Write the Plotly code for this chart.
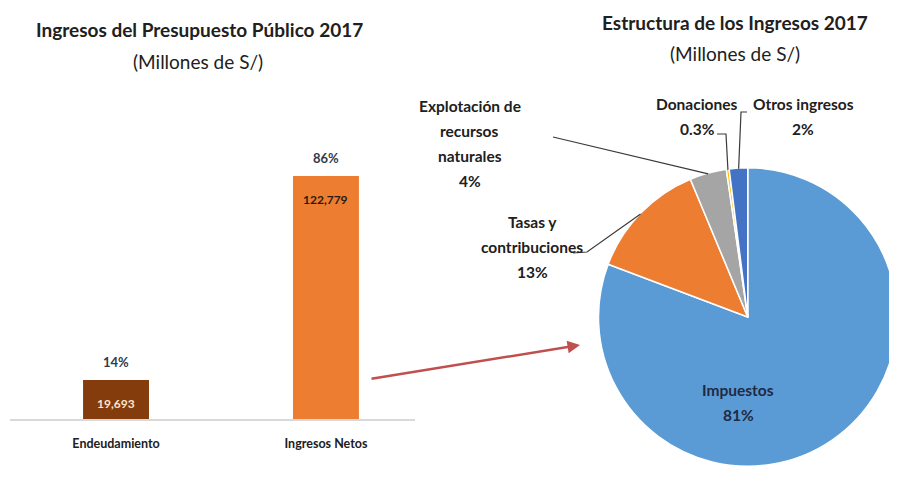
import math

import plotly.graph_objects as go

W, H = 897, 493
OFF = 8  # default body margin of the html page
FW, FH = W - OFF, H - OFF

# --- data -----------------------------------------------------------------
bar_categories = ["Endeudamiento", "Ingresos Netos"]
bar_values = [19693, 122779]
bar_colors = ["#843C0C", "#ED7D31"]
bar_value_colors = ["#FBE5D0", "#2B1A10"]

pie_names = ["Impuestos", "Tasas y contribuciones", "Explotación de recursos naturales",
             "Donaciones", "Otros ingresos"]
pie_pct = [81, 13, 4, 0.3, 2]
pie_lines = [["Impuestos"], ["Tasas y", "contribuciones"],
             ["Explotación de", "recursos", "naturales"], ["Donaciones"], ["Otros ingresos"]]
pie_colors = ["#5B9BD5", "#ED7D31", "#A5A5A5", "#FFC000", "#4472C4"]

FONT = "Lato"
DARK = "#202020"


def px_x(x):
    return (x - OFF) / FW


def px_y(y):
    return 1 - (y - OFF) / FH


fig = go.Figure()

# --- bar chart (left) -------------------------------------------------------
fig.add_trace(go.Bar(
    x=bar_categories, y=bar_values,
    marker=dict(color=bar_colors, line=dict(width=0)),
    width=0.314, hoverinfo="x+y", showlegend=False,
))

total = sum(bar_values)
annotations = []
for cat, val, col in zip(bar_categories, bar_values, bar_value_colors):
    annotations.append(dict(
        x=cat, y=val, xref="x", yref="y", text=f"{val:,}", showarrow=False,
        yanchor="top", yshift=-14, font=dict(family=FONT, size=12, color=col, weight="bold"),
    ))
    annotations.append(dict(
        x=cat, y=val, xref="x", yref="y", text=f"{val / total * 100:.0f}%", showarrow=False,
        yanchor="bottom", yshift=8, font=dict(family=FONT, size=13, color="#333a48", weight="bold"),
    ))

# --- pie chart (right) ------------------------------------------------------
PIE_CX, PIE_CY, PIE_R = 748, 317, 149.5
fig.add_trace(go.Pie(
    labels=pie_names, values=pie_pct,
    marker=dict(colors=pie_colors, line=dict(color="white", width=1.5)),
    sort=False, direction="clockwise", rotation=0,
    textinfo="none", hoverinfo="label+percent", showlegend=False,
    domain=dict(x=[px_x(PIE_CX - PIE_R), 1],
                y=[px_y(PIE_CY + PIE_R), px_y(PIE_CY - PIE_R)]),
))


def edge_point(i):
    """Point on the pie edge at the middle of slice i."""
    tot = sum(pie_pct)
    frac = (sum(pie_pct[:i]) + pie_pct[i] / 2) / tot
    a = frac * 2 * math.pi
    return PIE_CX + PIE_R * math.sin(a), PIE_CY - PIE_R * math.cos(a)


label_pos = [(738, 390), (532, 222), (470, 106), (697, 104), (803, 104)]
label_cols = ["#1F2A44", DARK, DARK, DARK, DARK]
for lines, pct, (lx, ly), col in zip(pie_lines, pie_pct, label_pos, label_cols):
    for k, t in enumerate(lines + [f"{pct:g}%"]):
        annotations.append(dict(
            x=px_x(lx), y=px_y(ly + k * 25), xref="paper", yref="paper", text=t,
            showarrow=False, xanchor="center", yanchor="middle",
            font=dict(family=FONT, size=15.5, color=col, weight="bold"),
        ))

# leader lines
leaders = {
    1: [(573, 253), (587, 252)],
    2: [(553, 137)],
    3: [(717, 134), (726, 134)],
    4: [(747, 112), (741, 112)],
}
shapes = []
for i, pts in leaders.items():
    ex, ey = edge_point(i)
    path = "M " + " L ".join(f"{px_x(x)},{px_y(y)}" for x, y in pts + [(ex, ey + 1)])
    shapes.append(dict(type="path", xref="paper", yref="paper", path=path,
                       line=dict(color="#3a3a3a", width=1.2)))

# titles
titles = [
    ("Ingresos del Presupuesto Público 2017", 199, 30, "bold"),
    ("(Millones de S/)", 198, 61, "normal"),
    ("Estructura de los Ingresos 2017", 735, 22, "bold"),
    ("(Millones de S/)", 735, 53, "normal"),
]
for t, x, y, w in titles:
    annotations.append(dict(
        x=px_x(x), y=px_y(y), xref="paper", yref="paper", text=t, showarrow=False,
        xanchor="center", yanchor="middle",
        font=dict(family=FONT, size=19, color=DARK, weight=w),
    ))

# red arrow from the net income bar to the pie
annotations.append(dict(
    x=px_x(580), y=px_y(345), xref="paper", yref="paper", text="",
    showarrow=True, ax=370 - 580, ay=379 - 345, axref="pixel", ayref="pixel",
    arrowhead=2, arrowsize=1, arrowwidth=2.5, arrowcolor="#C0504D",
))

fig.update_layout(
    width=FW, height=FH,
    margin=dict(l=0, r=0, t=0, b=0),
    paper_bgcolor="white", plot_bgcolor="white",
    font=dict(family=FONT, color=DARK),
    xaxis=dict(domain=[px_x(10), px_x(415)], range=[-0.505, 1.424],
               showline=True, linecolor="#D9D9D9", linewidth=1.5, showgrid=False,
               ticks="", ticklabelstandoff=12,
               tickfont=dict(family=FONT, size=12.5, color=DARK, weight="bold")),
    yaxis=dict(domain=[px_y(419), px_y(80)], range=[0, 171290], visible=False),
    annotations=annotations, shapes=shapes,
)

fig.write_html("out.html")
